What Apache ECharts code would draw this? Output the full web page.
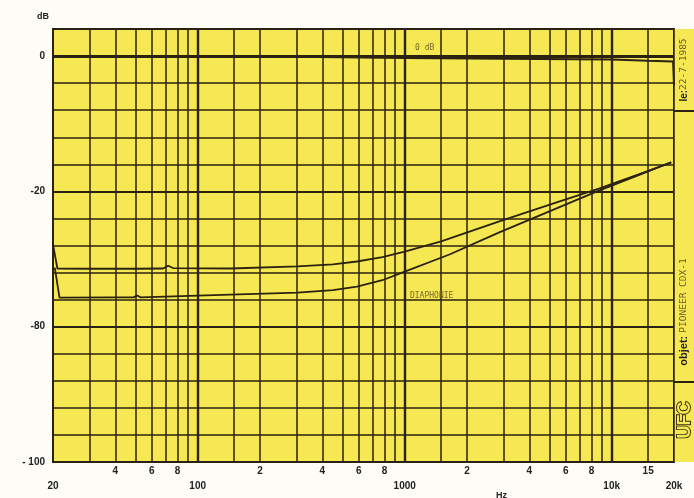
<!DOCTYPE html>
<html>
<head>
<meta charset="utf-8">
<script src="https://cdn.jsdelivr.net/npm/echarts@6/dist/echarts.min.js"></script>
<style>
  html, body { margin: 0; padding: 0; background: #fdfcf6; }
  #chart { width: 694px; height: 498px; }
</style>
</head>
<body>
<div id="chart"></div>
<script>
// frequency grid lines of the log paper (Hz)
const freqGrid = [20, 30, 40, 50, 60, 70, 80, 90, 100, 150, 200, 300, 400, 500, 600, 700, 800, 900,
  1000, 1500, 2000, 3000, 4000, 5000, 6000, 7000, 8000, 9000, 10000, 15000, 20000]
const decadeLines = [100, 1000, 10000]
// tick labels under the axis, two rows
const upperRowFreq = [40, 60, 80, 200, 400, 600, 800, 2000, 4000, 6000, 8000, 15000]
const upperRowText = ['4', '6', '8', '2', '4', '6', '8', '2', '4', '6', '8', '15']
const lowerRowFreq = [20, 100, 1000, 10000, 20000]
const lowerRowText = ['20', '100', '1000', '10k', '20k']
// dB labels printed on the paper
const dbTickLabels = [0, -20, -80, -100]

// measured curves [Hz, dB]
const response = [[20, 0], [50, 0], [100, 0], [300, -0.1], [1000, -0.3], [3000, -0.4],
  [10000, -0.5], [15000, -0.7], [19800, -0.8], [20000, -4.4]]
const crosstalkA = [[20, -43.5], [21, -54.2], [30, -54.3], [50, -54.3], [68, -54.2], [72, -53.0], [76, -54.0],
  [144, -54.2], [303, -53.3], [450, -52.4], [588, -51.1], [780, -49.2], [1000, -46.7], [1500, -42.2], [2865, -33.3],
  [5560, -24.5], [8670, -19.6], [13500, -17.5], [19400, -15.7]]
const crosstalkB = [[20.4, -53.8], [21.5, -67.1], [40, -67.0], [49, -67.0], [51, -66.2], [53, -67.0],
  [144, -65.8], [303, -64.9], [450, -63.8], [588, -62.2], [780, -59.4], [1000, -55.6], [1645, -48.0], [2865, -38.2],
  [5560, -27.1], [8670, -19.9], [13500, -17.6], [19400, -15.7]]

// the paper is not linear: 4 dB/div down to -20, 12 dB/div to -80, 4 dB/div to -100
function toAxis(db) {
  if (db >= -20) return db / 4
  if (db >= -80) return -5 + (db + 20) / 12
  return -10 + (db + 80) / 4
}
function toDb(v) {
  if (v >= -5) return v * 4
  if (v >= -10) return -20 + (v + 5) * 12
  return -80 + (v + 10) * 4
}
const conv = arr => arr.map(p => [p[0], toAxis(p[1])])

const ink = '#2b2210'
const paper = '#f6e852'
const font = 'Liberation Sans'

let myChart = echarts.init(document.getElementById('chart'))
let option = {
  animation: false,
  grid: {
    left: 53, right: 20, top: 29, bottom: 36,
    show: true, backgroundColor: paper, borderColor: ink, borderWidth: 2
  },
  xAxis: [
    {
      type: 'log', min: 20, max: 20000, logBase: 10,
      axisLine: { show: false },
      axisTick: { show: false },
      splitLine: { show: false },
      axisLabel: {
        customValues: upperRowFreq,
        margin: 4,
        fontFamily: font, fontWeight: 'bold', fontSize: 10, color: '#222',
        formatter: v => {
          const i = upperRowFreq.findIndex(f => Math.abs(f - v) < f * 0.01)
          return i >= 0 ? upperRowText[i] : ''
        }
      }
    },
    {
      type: 'log', min: 20, max: 20000, logBase: 10, position: 'bottom',
      axisLine: { show: false },
      axisTick: { show: false },
      splitLine: { show: false },
      axisLabel: {
        customValues: lowerRowFreq,
        margin: 19,
        fontFamily: font, fontWeight: 'bold', fontSize: 10, color: '#222',
        formatter: v => {
          const i = lowerRowFreq.findIndex(f => Math.abs(f - v) < f * 0.01)
          return i >= 0 ? lowerRowText[i] : ''
        }
      }
    }
  ],
  yAxis: {
    type: 'value', min: -15, max: 1, interval: 1,
    name: 'dB', nameLocation: 'end', nameGap: 8,
    nameTextStyle: { fontFamily: font, fontWeight: 'bold', fontSize: 9, color: '#222', align: 'right', padding: [0, 4, 0, 0] },
    axisLine: { show: false },
    axisTick: { show: false },
    splitLine: { show: true, lineStyle: { color: ink, width: 1.5 } },
    axisLabel: {
      margin: 8,
      fontFamily: font, fontWeight: 'bold', fontSize: 10, color: '#222',
      formatter: v => {
        const db = Math.round(toDb(v))
        if (!dbTickLabels.includes(db)) return ''
        return db === -100 ? '- 100' : String(db)
      }
    }
  },
  series: [
    {
      name: 'grid',
      type: 'line',
      data: [],
      silent: true,
      z: 1,
      markLine: {
        silent: true,
        symbol: 'none',
        label: { show: false },
        data: freqGrid.map(f => ({
          xAxis: f,
          lineStyle: { color: ink, type: 'solid', width: decadeLines.includes(f) ? 2.4 : 1.5 }
        })).concat(
          [[0, 3], [-20, 2], [-80, 2]].map(d => ({
            yAxis: toAxis(d[0]),
            lineStyle: { color: ink, type: 'solid', width: d[1] }
          }))
        )
      }
    },
    {
      name: 'réponse',
      type: 'line',
      data: conv(response),
      showSymbol: false,
      z: 3,
      lineStyle: { color: ink, width: 2 },
      markPoint: {
        symbol: 'circle', symbolSize: 1,
        itemStyle: { color: 'rgba(0,0,0,0)' },
        label: { show: true, position: 'inside', fontFamily: 'DejaVu Sans Mono', fontSize: 8, color: '#7a6a2a' },
        data: [{ coord: [1250, toAxis(1.2)], value: '0 dB', label: { formatter: '0 dB' } }]
      }
    },
    {
      name: 'diaphonie A',
      type: 'line',
      data: conv(crosstalkA),
      showSymbol: false,
      z: 3,
      lineStyle: { color: ink, width: 1.8, join: 'round' }
    },
    {
      name: 'diaphonie B',
      type: 'line',
      data: conv(crosstalkB),
      showSymbol: false,
      z: 3,
      lineStyle: { color: ink, width: 1.8, join: 'round' },
      markPoint: {
        symbol: 'circle', symbolSize: 1,
        itemStyle: { color: 'rgba(0,0,0,0)' },
        label: { show: true, position: 'inside', fontFamily: 'DejaVu Sans Mono', fontSize: 8, color: '#7a6a2a' },
        data: [{ coord: [1350, toAxis(-66.2)], value: 'DIAPHONIE', label: { formatter: 'DIAPHONIE' } }]
      }
    }
  ],
  graphic: [
    // title strip on the right edge of the paper
    { type: 'rect', left: 674, top: 29, shape: { width: 20, height: 433 }, style: { fill: paper }, z: 0 },
    { type: 'line', shape: { x1: 674, y1: 111, x2: 694, y2: 111 }, style: { stroke: ink, lineWidth: 2 } },
    { type: 'line', shape: { x1: 674, y1: 382, x2: 694, y2: 382 }, style: { stroke: ink, lineWidth: 2 } },
    {
      type: 'text', x: 684, y: 70, rotation: Math.PI / 2,
      style: {
        text: '{b|le:}{s|22-7-1985}', align: 'center', verticalAlign: 'middle',
        rich: {
          b: { fontFamily: font, fontWeight: 'bold', fontSize: 10, fill: '#222' },
          s: { fontFamily: 'DejaVu Sans Mono', fontSize: 9.5, fill: '#6a5a25' }
        }
      }
    },
    {
      type: 'text', x: 684, y: 312, rotation: Math.PI / 2,
      style: {
        text: '{b|objet: }{s|PIONEER CDX-1}', align: 'center', verticalAlign: 'middle',
        rich: {
          b: { fontFamily: font, fontWeight: 'bold', fontSize: 11, fill: '#222' },
          s: { fontFamily: 'DejaVu Sans Mono', fontSize: 9.5, fill: '#6a5a25' }
        }
      }
    },
    {
      type: 'text', x: 685, y: 420, rotation: Math.PI / 2,
      style: {
        text: 'UFC', align: 'center', verticalAlign: 'middle',
        fontFamily: font, fontWeight: 'bold', fontSize: 18, fill: paper, stroke: ink, lineWidth: 1.8
      }
    },
    {
      type: 'text', left: 496, top: 491,
      style: { text: 'Hz', fontFamily: font, fontWeight: 'bold', fontSize: 9, fill: '#222' }
    }
  ]
}
myChart.setOption(option)
window.addEventListener('resize', function() {
  myChart.resize()
})
</script>
</body>
</html>
